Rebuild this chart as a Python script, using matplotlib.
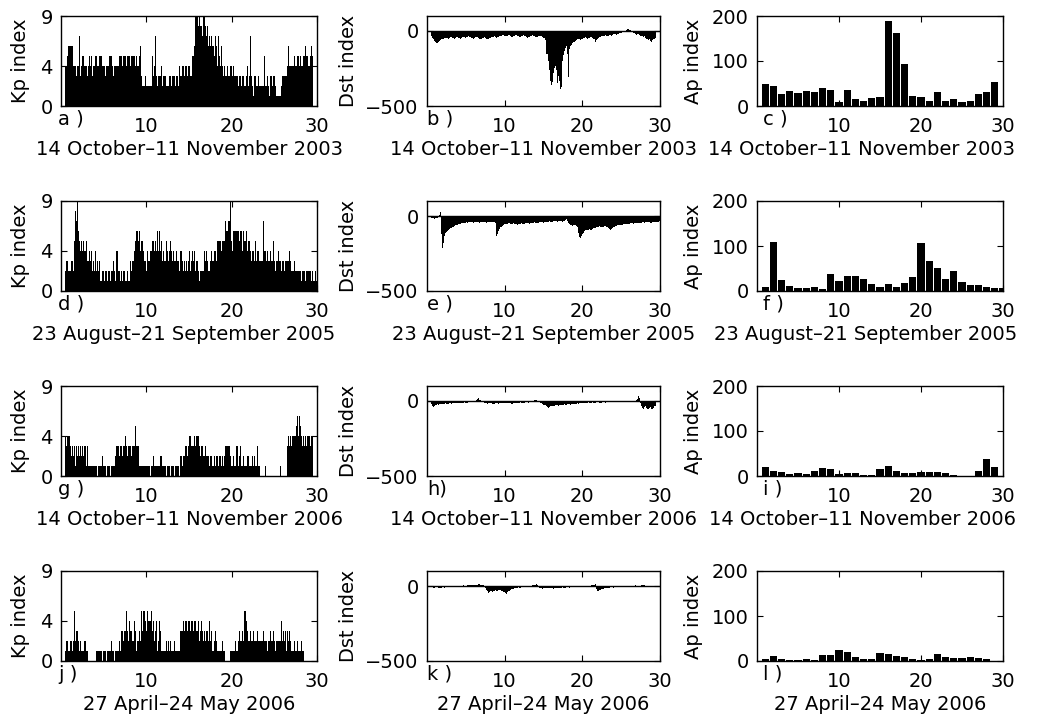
import matplotlib
matplotlib.use("Agg")
import matplotlib.pyplot as plt
import numpy as np

plt.rcParams["font.family"] = ["DejaVu Sans"]
plt.rcParams["font.size"] = 14

# ---------------------------------------------------------------------------
# Interval labels
PERIODS = [
    "14 October\u201311 November 2003",
    "23 August\u201321 September 2005",
    "14 October\u201311 November 2006",
    "27 April\u201324 May 2006",
]
PANEL_LETTERS = [
    ["a )", "b )", "c )"],
    ["d )", "e )", "f )"],
    ["g )", "h)", "i )"],
    ["j )", "k )", "l )"],
]

# Kp index, 3-hourly (eight values per day, one string per day)
KP_2003 = ["44566664", "44344734", "55443454", "53445544", "55444344",
           "45554344", "44555455", "54555455", "54544563", "22232222",
           "25347323", "33423322", "23323332", "33243443", "44344335",
           "56998988", "79987867", "67657647", "54643433", "43443433",
           "33233233", "23423732", "13322322", "22522321", "33233211",
           "11233333", "46444454", "45545445", "56554565"]
KP_2005 = ["23322332", "58796545", "45453343", "42324232", "31221221",
           "22122321", "42212122", "11211323", "45665645", "54332434",
           "45545464", "64534354", "34543433", "43324323", "23234234",
           "34232122", "22434322", "34344355", "55455576", "67954666",
           "66656646", "56455434", "43534433", "37443433", "43353234",
           "33233233", "33432232", "22222122", "21222212", "11212112"]
KP_2006_OCT = ["43443232", "31323232", "32313111", "11111101", "11211101",
               "11011112", "33233233", "43233323", "35333111", "11111110",
               "11211111", "12211101", "11011101", "11102122", "33234433",
               "34344323", "32232221", "22121221", "22121233", "33211211",
               "33123112", "11221112", "12113110", "00010000", "00000000",
               "01000000", "34343444", "56465434", "34344344"]
KP_2006_MAY = ["12212212", "52332121", "11211000", "00000111", "11011101",
               "11121101", "11213323", "35324332", "43122325", "35543544",
               "53423412", "43111121", "21211121", "11113343", "44344344",
               "34434234", "32323324", "23123211", "11121100", "00111112",
               "11232232", "54322322", "32223222", "23222122", "32232122",
               "22423231", "32321121", "12111211"]

# Dst index (nT), 3-hourly, one row per day
DST_2003 = [
    -35, -45, -55, -65, -75, -82, -80, -70,
    -65, -60, -55, -55, -50, -50, -48, -45,
    -45, -48, -50, -45, -42, -40, -45, -48,
    -50, -45, -40, -42, -45, -48, -50, -45,
    -40, -38, -42, -45, -40, -38, -35, -40,
    -42, -45, -48, -50, -45, -42, -40, -38,
    -40, -45, -50, -55, -52, -48, -45, -42,
    -45, -50, -55, -52, -48, -45, -42, -40,
    -38, -35, -40, -45, -42, -38, -35, -32,
    -30, -28, -25, -30, -32, -35, -30, -25,
    -28, -30, -35, -40, -38, -35, -30, -28,
    -25, -30, -35, -38, -40, -35, -30, -28,
    -30, -35, -40, -45, -42, -38, -35, -30,
    -28, -30, -35, -38, -42, -40, -35, -30,
    -30, -35, -40, -45, -48, -45, -60, -150,
    -150, -200, -260, -330, -357, -340, -280, -247,
    -230, -260, -345, -300, -330, -385, -370, -200,
    -160, -130, -110, -100, -150, -308, -120, -100,
    -90, -80, -75, -70, -65, -60, -55, -55,
    -50, -55, -60, -55, -50, -48, -45, -42,
    -45, -50, -48, -45, -40, -42, -45, -50,
    -55, -70, -60, -50, -45, -40, -38, -35,
    -35, -32, -30, -28, -30, -32, -30, -28,
    -25, -28, -30, -26, -22, -20, -22, -25,
    -20, -18, -15, -12, -10, -8, -5, -2,
    2, 8, 12, 15, 10, 5, 0, -5,
    -10, -15, -20, -25, -22, -20, -25, -30,
    -30, -35, -40, -38, -35, -45, -50, -55,
    -60, -55, -65, -70, -60, -55, -50, -45,
]
DST_2005 = [
    -10, -12, -15, -18, -15, -12, -10, -8,
    10, 25, -120, -216, -180, -150, -130, -115,
    -105, -100, -95, -88, -82, -78, -75, -70,
    -65, -62, -60, -58, -55, -52, -50, -48,
    -48, -46, -45, -44, -42, -45, -43, -42,
    -42, -40, -42, -44, -40, -38, -40, -42,
    -40, -42, -44, -42, -40, -38, -40, -42,
    -42, -44, -40, -38, -40, -42, -40, -38,
    -40, -42, -45, -133, -120, -100, -85, -75,
    -70, -65, -60, -55, -52, -50, -50, -48,
    -48, -50, -52, -55, -50, -48, -50, -52,
    -55, -58, -55, -52, -50, -48, -50, -52,
    -50, -48, -46, -45, -48, -50, -48, -46,
    -45, -44, -42, -45, -48, -46, -44, -42,
    -42, -40, -42, -44, -42, -40, -38, -40,
    -40, -38, -36, -38, -40, -38, -36, -35,
    -35, -36, -38, -36, -34, -32, -35, -38,
    -35, -30, -25, -20, -30, -45, -55, -60,
    -62, -65, -60, -58, -62, -66, -70, -75,
    -110, -140, -149, -130, -120, -110, -100, -95,
    -95, -92, -90, -88, -95, -92, -85, -80,
    -80, -78, -75, -72, -70, -68, -72, -75,
    -72, -70, -68, -65, -70, -75, -80, -85,
    -88, -90, -85, -80, -75, -72, -68, -65,
    -62, -60, -58, -60, -62, -58, -55, -52,
    -52, -50, -55, -52, -50, -48, -46, -48,
    -50, -48, -46, -44, -45, -48, -46, -44,
    -44, -42, -40, -42, -45, -43, -40, -42,
    -40, -42, -45, -48, -42, -40, -38, -40,
    -40, -42, -38, -36, -40, -42, -40, -38,
]
DST_2006_OCT = [
    -20, -35, -38, -30, -28, -25, -22, -25,
    -22, -20, -18, -20, -22, -20, -18, -16,
    -18, -20, -18, -16, -15, -18, -16, -14,
    -15, -16, -14, -12, -14, -15, -12, -10,
    -12, -10, -8, -10, -12, -10, -8, -6,
    -8, -6, -4, -2, 0, 2, 5, 8,
    15, 18, 10, 5, 0, -5, -8, -10,
    -12, -15, -18, -16, -14, -12, -15, -18,
    -20, -18, -16, -14, -16, -18, -15, -12,
    -14, -16, -15, -12, -10, -12, -14, -12,
    -10, -12, -15, -20, -18, -14, -12, -10,
    -12, -14, -12, -10, -8, -10, -12, -10,
    -10, -8, -6, -8, -10, -8, -6, -4,
    -2, 0, 5, 8, 5, 2, 0, -5,
    -10, -15, -20, -25, -30, -28, -25, -35,
    -40, -44, -38, -35, -30, -32, -35, -30,
    -28, -25, -28, -30, -26, -24, -26, -28,
    -25, -22, -24, -26, -22, -20, -22, -24,
    -22, -20, -18, -20, -22, -20, -18, -16,
    -18, -15, -12, -14, -16, -14, -12, -10,
    -12, -10, -8, -10, -12, -10, -8, -10,
    -12, -10, -8, -6, -8, -10, -12, -10,
    -8, -6, -8, -10, -8, -6, -4, -6,
    -8, -6, -4, -6, -8, -6, -4, -2,
    -4, -6, -4, -2, -4, -6, -4, -2,
    -2, -4, -2, 0, -2, -4, -2, 0,
    2, 0, -2, 5, 15, 33, 20, -10,
    -30, -45, -55, -50, -40, -35, -45, -50,
    -55, -45, -40, -50, -55, -45, -35, -30,
]
DST_2006_MAY = [
    -5, -8, -10, -12, -8, -6, -8, -10,
    -12, -15, -10, -8, -6, -8, -10, -8,
    -6, -5, -4, -6, -8, -6, -4, -2,
    -2, 0, 2, 0, -2, -4, -2, 0,
    2, 4, 2, 0, 2, 4, 6, 4,
    5, 8, 6, 4, 8, 10, 8, 6,
    8, 12, 15, 10, 8, 6, 4, 2,
    -10, -25, -35, -44, -38, -30, -35, -40,
    -35, -30, -28, -32, -30, -26, -24, -28,
    -30, -35, -40, -38, -45, -51, -40, -35,
    -30, -25, -28, -22, -20, -18, -15, -12,
    -12, -10, -8, -10, -12, -8, -6, -5,
    -4, -2, 0, 2, 0, -2, 0, 2,
    4, 6, 8, 10, 12, 8, -5, -12,
    -14, -16, -18, -15, -12, -14, -16, -14,
    -15, -16, -14, -12, -14, -16, -18, -15,
    -14, -12, -10, -12, -14, -12, -10, -8,
    -10, -12, -10, -8, -6, -8, -10, -8,
    -6, -8, -6, -4, -6, -8, -6, -5,
    -4, -6, -4, -2, -4, -6, -4, -2,
    -2, -4, -2, 0, 2, 4, 6, 5,
    8, 15, -20, -30, -35, -28, -25, -22,
    -20, -18, -15, -12, -10, -12, -14, -12,
    -10, -8, -6, -8, -10, -8, -6, -5,
    -4, -6, -8, -6, -4, -2, -4, -6,
    -4, -2, 0, -2, -4, -2, 0, 2,
    0, 2, 4, 2, 0, -2, 0, 2,
    4, 6, 8, 6, 4, 2, 0, 2,
]

# Ap index, daily
AP_2003 = [49, 44, 27, 33, 29, 34, 31, 40, 35, 9, 35, 16, 12, 17, 21,
           188, 162, 94, 23, 20, 12, 32, 11, 16, 10, 12, 26, 31, 53]
AP_2005 = [10, 110, 25, 11, 7, 7, 10, 4, 37, 22, 34, 33, 27, 15, 10,
           16, 9, 18, 31, 106, 67, 52, 27, 44, 20, 13, 13, 9, 7, 6]
AP_2006_OCT = [20, 12, 10, 4, 6, 4, 12, 17, 15, 5, 6, 6, 3, 3, 16,
               22, 12, 6, 7, 10, 10, 8, 7, 2, 1, 1, 11, 37, 21]
AP_2006_MAY = [5, 12, 4, 2, 2, 4, 3, 14, 13, 24, 19, 8, 5, 4, 17,
               16, 11, 8, 4, 3, 5, 16, 8, 7, 7, 8, 7, 4]

# ---------------------------------------------------------------------------
FIG_W, FIG_H = 1039, 722
COL_PX = [(61, 317), (427, 660), (757, 1003)]
ROW_PX = [(16, 106), (201, 291), (386, 476), (571, 661)]
YLABEL_X = [-0.16, -0.339, -0.26]
LETTER_X = [-0.35, 0.05, 0.7]
DATE_X = [[0.5, 0.5, 0.425], [0.48, 0.5, 0.44], [0.5, 0.5, 0.43], [0.5, 0.5, 0.5]]

fig = plt.figure(figsize=(FIG_W / 100, FIG_H / 100), dpi=100)


def make_axes(r, c):
    x0, x1 = COL_PX[c]
    y0, y1 = ROW_PX[r]
    ax = fig.add_axes([x0 / FIG_W, 1 - y1 / FIG_H, (x1 - x0) / FIG_W, (y1 - y0) / FIG_H])
    ax.set_xlim(0, 30)
    ax.set_xticks([10, 20, 30])
    ax.tick_params(direction="in", top=True, right=True, length=4, width=0.8)
    ax.tick_params(axis="x", pad=8)
    ax.tick_params(axis="y", pad=6)
    for sp in ax.spines.values():
        sp.set_linewidth(1.0)
    return ax


def decorate(ax, r, c, ylabel):
    ax.text(YLABEL_X[c], 0.5, ylabel, rotation=90, ha="center", va="center",
            transform=ax.transAxes)
    ax.text(LETTER_X[c], -0.04, PANEL_LETTERS[r][c], ha="left", va="top",
            transform=ax.get_xaxis_transform())
    ax.text(DATE_X[r][c], -0.54, PERIODS[r], ha="center", va="baseline",
            transform=ax.transAxes)


kp_sets = [KP_2003, KP_2005, KP_2006_OCT, KP_2006_MAY]
dst_sets = [DST_2003, DST_2005, DST_2006_OCT, DST_2006_MAY]
ap_sets = [AP_2003, AP_2005, AP_2006_OCT, AP_2006_MAY]

slot = 1 / 8
for r in range(4):
    # Kp bars
    kp = np.array([int(ch) for ch in "".join(kp_sets[r])])
    tk = 0.5 + (np.arange(kp.size) + 0.5) * slot
    ax = make_axes(r, 0)
    ax.bar(tk, kp, width=slot * 0.95, color="black", linewidth=0)
    ax.set_ylim(0, 9)
    ax.set_yticks([0, 4, 9])
    decorate(ax, r, 0, "Kp index")

    # Dst bars from zero
    dst = np.array(dst_sets[r])
    td = 0.5 + (np.arange(dst.size) + 0.5) * slot
    ax = make_axes(r, 1)
    ax.bar(td, dst, width=slot, color="black", linewidth=0)
    ax.axhline(0, color="black", linewidth=1.0)
    ax.set_ylim(-500, 100)
    ax.set_yticks([-500, 0])
    decorate(ax, r, 1, "Dst index")

    # Ap daily bars
    ap = np.array(ap_sets[r])
    ta = np.arange(1, ap.size + 1)
    ax = make_axes(r, 2)
    ax.bar(ta, ap, width=0.9, color="black", linewidth=0)
    ax.set_ylim(0, 200)
    ax.set_yticks([0, 100, 200])
    decorate(ax, r, 2, "Ap index")

fig.savefig("out.png", dpi=100)
